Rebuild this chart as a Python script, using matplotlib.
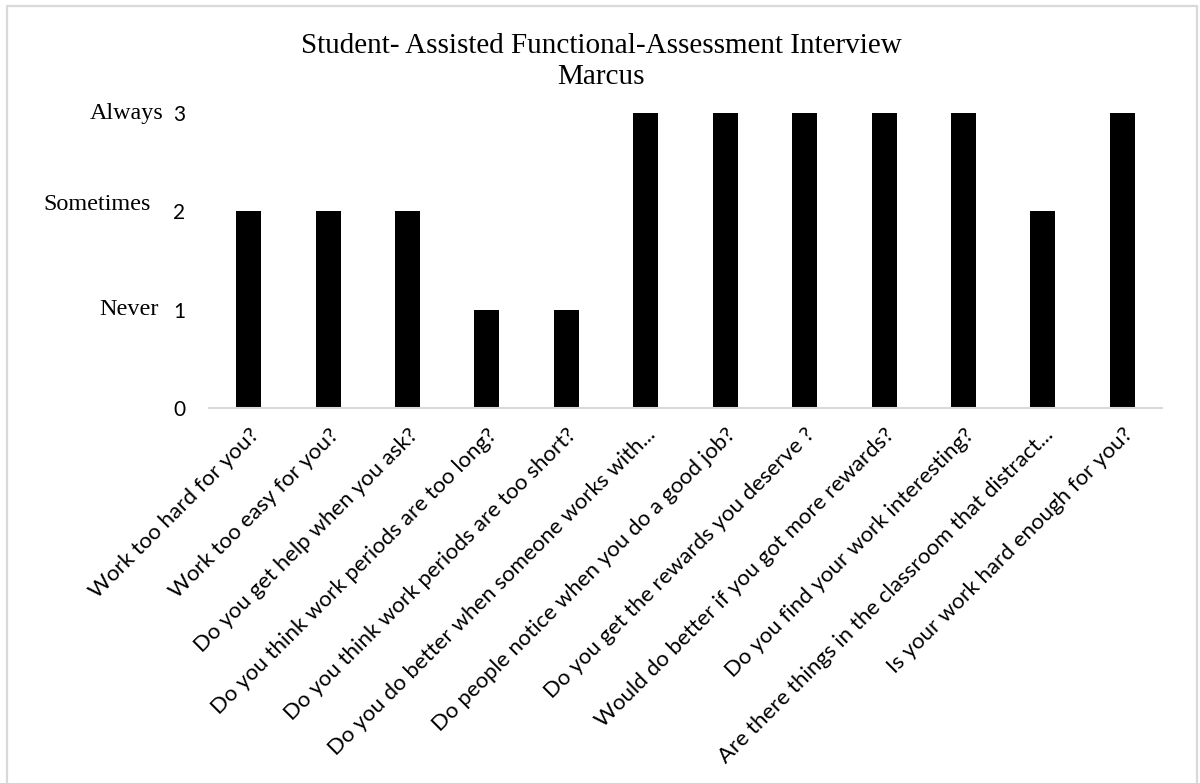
import matplotlib.pyplot as plt
from matplotlib.lines import Line2D

# survey questions and answers (0-3 scale)
questions = [
    "Work too hard for you?",
    "Work too easy for you?",
    "Do you get help when you ask?",
    "Do you think work periods are too long?",
    "Do you think work periods are too short?",
    "Do you do better when someone works with...",
    "Do people notice when you do a good job?",
    "Do you get the rewards you deserve ?",
    "Would do better if you got more rewards?",
    "Do you find your work interesting?",
    "Are there things in the classroom that distract...",
    "Is your work hard enough for you?",
]
answers = [2, 2, 2, 1, 1, 3, 3, 3, 3, 3, 2, 3]
scale_words = {3: "Always", 2: "Sometimes", 1: "Never"}

W, H = 1200, 783
fig = plt.figure(figsize=(12, 7.83), dpi=100)
ax = fig.add_axes([209/W, 1 - 408/H, (1162-209)/W, (408-113)/H])

x = range(len(questions))
ax.bar(x, answers, width=0.315, color='black')
ax.set_xlim(-0.5, len(questions) - 0.5)
ax.set_ylim(0, 3)
ax.set_yticks([0, 1, 2, 3])
ax.set_yticklabels(['0', '1', '2', '3'], fontsize=15, family='Lato')
ax.set_xticks(list(x))
ax.set_xticklabels(questions, rotation=45, ha='right', rotation_mode='anchor',
                   fontsize=16, family='Lato')
ax.tick_params(length=0)
ax.tick_params(axis='y', pad=17)
ax.tick_params(axis='x', pad=12)
for s in ['top', 'right', 'left']:
    ax.spines[s].set_visible(False)
ax.spines['bottom'].set_color('#d9d9d9')
ax.spines['bottom'].set_linewidth(1.5)

# word labels beside the y ticks (right edge, baseline)
word_pos = {3: (164, 119), 2: (151, 210), 1: (159, 315)}
for v, w in scale_words.items():
    px, py = word_pos[v]
    fig.text(px/W, 1 - py/H, w, ha='right', va='baseline',
             family='Liberation Serif', fontsize=17.4)

fig.text(601/W, 1 - 53/H, "Student- Assisted Functional-Assessment Interview",
         ha='center', va='baseline', family='Liberation Serif', fontsize=21)
fig.text(601/W, 1 - 84/H, "Marcus",
         ha='center', va='baseline', family='Liberation Serif', fontsize=21)

# chart border (no bottom edge visible)
bx = [6.5/W, 6.5/W, 1197/W, 1197/W]
by = [-0.01, 1 - 5.5/H, 1 - 5.5/H, -0.01]
fig.lines.append(Line2D(bx, by, transform=fig.transFigure, color='#d9d9d9', linewidth=1.6))

plt.savefig('out.png', dpi=100)
